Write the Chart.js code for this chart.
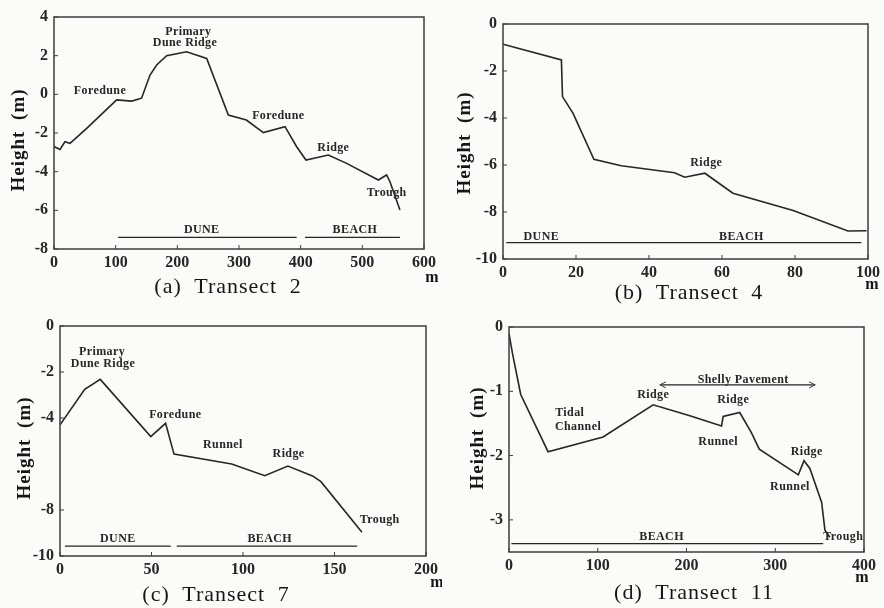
<!DOCTYPE html>
<html>
<head>
<meta charset="utf-8">
<script src="https://cdn.jsdelivr.net/npm/chart.js@4.4.1/dist/chart.umd.min.js"></script>
<style>
  html, body { margin: 0; padding: 0; background: #fbfbfa; }
  #fig { position: relative; width: 884px; height: 608px; overflow: hidden; }
  canvas { position: absolute; }
</style>
</head>
<body>
<div id="fig">
  <canvas id="t2" width="442" height="306" style="left:0;top:0"></canvas>
  <canvas id="t4" width="442" height="306" style="left:442px;top:0"></canvas>
  <canvas id="t7" width="442" height="308" style="left:0;top:300px"></canvas>
  <canvas id="t11" width="442" height="308" style="left:442px;top:300px"></canvas>
</div>
<script>
// (a) Transect 2
const t2Dist = [0, 9.7, 17.8, 26, 53, 101.6, 126, 142, 155.7, 166.5, 182.7, 215, 247.6, 282.7, 312, 339.5, 374.6, 393.5, 408.6, 444.8, 474.6, 525.9, 539.4, 544.8, 561];
const t2Height = [-2.7, -2.85, -2.45, -2.53, -1.76, -0.29, -0.35, -0.2, 1.0, 1.52, 2.0, 2.2, 1.86, -1.07, -1.33, -1.98, -1.67, -2.71, -3.4, -3.14, -3.57, -4.43, -4.17, -4.52, -5.98];
const t2XTicks = [0, 100, 200, 300, 400, 500, 600];
const t2YTicks = [4, 2, 0, -2, -4, -6, -8];
const t2Zones = [["DUNE", 104, 393.5, 239.5], ["BEACH", 407, 561, 488]];
const t2ZoneLevel = -7.4;
const t2Notes = [["Foredune", 74.6, 0.19], ["Primary", 217.8, 3.24], ["Dune Ridge", 212.4, 2.64],
  ["Foredune", 363.7, -1.12], ["Ridge", 453, -2.79], ["Trough", 539.4, -5.09]];

// (b) Transect 4
const t4Dist = [0, 16, 16.3, 19.2, 24.9, 32.4, 47, 49.8, 55.3, 63, 79.5, 94.5, 99.6];
const t4Height = [-0.86, -1.53, -3.09, -3.8, -5.76, -6.03, -6.33, -6.52, -6.35, -7.2, -7.94, -8.81, -8.8];
const t4XTicks = [0, 20, 40, 60, 80, 100];
const t4YTicks = [0, -2, -4, -6, -8, -10];
const t4Zones = [["", 0.9, 98.2, 0]];
const t4ZoneLevel = -9.3;
const t4Notes = [["DUNE", 10.5, -9.05], ["BEACH", 65.3, -9.05], ["Ridge", 55.7, -5.9]];

// (c) Transect 7
const t7Dist = [0, 13.5, 22, 49.6, 57.7, 62.3, 93.8, 111.9, 124.5, 138, 142.6, 165];
const t7Height = [-4.3, -2.75, -2.32, -4.81, -4.23, -5.57, -6.0, -6.51, -6.09, -6.52, -6.77, -8.97];
const t7XTicks = [0, 50, 100, 150, 200];
const t7YTicks = [0, -2, -4, -8, -10];
const t7Zones = [["DUNE", 2.7, 60.5, 31.6], ["BEACH", 63.8, 162.4, 114.6]];
const t7ZoneLevel = -9.57;
const t7Notes = [["Primary", 23, -1.12], ["Dune Ridge", 23.5, -1.65], ["Foredune", 63, -3.87],
  ["Runnel", 89, -5.17], ["Ridge", 124.9, -5.57], ["Trough", 174.7, -8.43]];

// (d) Transect 11
const t11Dist = [0, 3.9, 13.2, 44, 106, 162.4, 203.8, 239.5, 241.3, 260, 273.4, 282, 326, 332.4, 339, 352.3, 356, 361.5];
const t11Height = [-0.1, -0.41, -1.05, -1.94, -1.71, -1.21, -1.38, -1.54, -1.39, -1.33, -1.65, -1.9, -2.3, -2.08, -2.2, -2.73, -3.16, -3.27];
const t11XTicks = [0, 100, 200, 300, 400];
const t11YTicks = [0, -1, -2, -3];
const t11Zones = [["BEACH", 2.7, 354, 171.9]];
const t11ZoneLevel = -3.37;
const t11Shelly = [170, 345];
const t11ShellyLevel = -0.9;
const t11Notes = [["Shelly Pavement", 263.9, -0.82], ["Tidal", 68.4, -1.34], ["Channel", 77.8, -1.55],
  ["Ridge", 162.4, -1.06], ["Ridge", 252.6, -1.14], ["Runnel", 235.7, -1.78],
  ["Ridge", 335.4, -1.94], ["Runnel", 316.6, -2.49], ["Trough", 376.7, -3.26]];

const INK = "#262626";
const SERIF = "'Liberation Serif', 'DejaVu Serif', serif";

// frame, inward ticks, notes and captions
const figurePlugin = {
  id: "figure",
  afterDatasetsDraw(chart, args, opts) {
    const { ctx, chartArea: a } = chart;
    const x = chart.scales.x, y = chart.scales.y;
    ctx.save();
    ctx.strokeStyle = "#3c3c3c";
    ctx.lineWidth = 1.5;
    ctx.strokeRect(a.left, a.top, a.right - a.left, a.bottom - a.top);

    ctx.lineWidth = 1;
    ctx.beginPath();
    y.ticks.forEach((t) => {
      const py = y.getPixelForValue(t.value);
      ctx.moveTo(a.left, py);
      ctx.lineTo(a.left + 4, py);
    });
    x.ticks.forEach((t) => {
      const px = x.getPixelForValue(t.value);
      ctx.moveTo(px, a.bottom);
      ctx.lineTo(px, a.bottom - 4);
    });
    ctx.stroke();

    ctx.fillStyle = INK;
    ctx.textAlign = "center";
    ctx.textBaseline = "middle";
    ctx.font = "bold 12px " + SERIF;
    ctx.letterSpacing = "0.4px";
    (opts.notes || []).forEach(([txt, vx, vy]) => {
      ctx.fillText(txt, x.getPixelForValue(vx), y.getPixelForValue(vy));
    });
    (opts.zones || []).forEach(([txt, x0, x1, cx]) => {
      if (txt) ctx.fillText(txt, x.getPixelForValue(cx), y.getPixelForValue(opts.zoneLevel) - 7);
    });

    // arrowheads for a ranged note
    if (opts.arrow) {
      const [x0, x1, lvl] = opts.arrow;
      const py = y.getPixelForValue(lvl);
      const p0 = x.getPixelForValue(x0), p1 = x.getPixelForValue(x1);
      ctx.beginPath();
      ctx.moveTo(p0 + 6, py - 3); ctx.lineTo(p0, py); ctx.lineTo(p0 + 6, py + 3);
      ctx.moveTo(p1 - 6, py - 3); ctx.lineTo(p1, py); ctx.lineTo(p1 - 6, py + 3);
      ctx.stroke();
    }

    ctx.fillStyle = "#161616";
    ctx.letterSpacing = "1px";
    ctx.wordSpacing = "6px";
    ctx.font = "22px " + SERIF;
    ctx.fillText(opts.caption, opts.capX, opts.capY);
    ctx.font = "bold 16px " + SERIF;
    ctx.letterSpacing = "0px";
    ctx.wordSpacing = "0px";
    ctx.fillText("m", opts.mX, opts.mY);

    ctx.translate(opts.titleX, opts.titleY);
    ctx.rotate(-Math.PI / 2);
    ctx.font = "bold 19px " + SERIF;
    ctx.letterSpacing = "1px";
    ctx.wordSpacing = "5px";
    ctx.fillText("Height (m)", 0, 0);
    ctx.restore();
  },
};

function makeTransect(id, cfg) {
  const canvas = document.getElementById(id);
  const W = canvas.width, H = canvas.height;
  const [L, T, R, B] = cfg.area;

  const datasets = [
    {
      data: cfg.dist.map((d, i) => ({ x: d, y: cfg.height[i] })),
      borderColor: INK,
      backgroundColor: INK,
      borderWidth: 1.6,
      pointRadius: 0,
      showLine: true,
    },
  ];
  cfg.zones.forEach(([, x0, x1]) => {
    datasets.push({
      data: [{ x: x0, y: cfg.zoneLevel }, { x: x1, y: cfg.zoneLevel }],
      borderColor: INK,
      borderWidth: 1.3,
      pointRadius: 0,
      showLine: true,
    });
  });
  if (cfg.arrow) {
    datasets.push({
      data: [{ x: cfg.arrow[0], y: cfg.arrow[2] }, { x: cfg.arrow[1], y: cfg.arrow[2] }],
      borderColor: INK,
      borderWidth: 1.2,
      pointRadius: 0,
      showLine: true,
    });
  }

  const tickFont = { family: SERIF, size: 16, weight: "bold" };
  return new Chart(canvas, {
    type: "scatter",
    data: { datasets },
    plugins: [figurePlugin],
    options: {
      responsive: false,
      animation: false,
      events: [],
      layout: { autoPadding: false, padding: { left: 0, top: T, right: W - R, bottom: 0 } },
      plugins: {
        legend: { display: false },
        tooltip: { enabled: false },
        figure: {
          notes: cfg.notes,
          zones: cfg.zones,
          zoneLevel: cfg.zoneLevel,
          arrow: cfg.arrow,
          caption: cfg.caption,
          capX: cfg.capPos[0],
          capY: cfg.capPos[1],
          mX: cfg.mPos[0],
          mY: cfg.mPos[1],
          titleX: cfg.titlePos[0],
          titleY: cfg.titlePos[1],
        },
      },
      scales: {
        x: {
          type: "linear",
          min: cfg.xTicks[0],
          max: cfg.xTicks[cfg.xTicks.length - 1],
          afterBuildTicks: (s) => { s.ticks = cfg.xTicks.map((v) => ({ value: v })); },
          afterFit: (s) => { s.height = H - B; },
          grid: { display: false, drawTicks: false },
          border: { display: false },
          ticks: { color: INK, font: tickFont, padding: 4, maxRotation: 0, autoSkip: false },
        },
        y: {
          type: "linear",
          min: cfg.yRange[0],
          max: cfg.yRange[1],
          afterBuildTicks: (s) => { s.ticks = cfg.yTicks.map((v) => ({ value: v })); },
          afterFit: (s) => { s.width = L; },
          grid: { display: false, drawTicks: false },
          border: { display: false },
          ticks: { color: INK, font: tickFont, padding: 6, autoSkip: false },
        },
      },
    },
  });
}

makeTransect("t2", {
  dist: t2Dist, height: t2Height, xTicks: t2XTicks, yTicks: t2YTicks, yRange: [-8, 4],
  zones: t2Zones, zoneLevel: t2ZoneLevel, notes: t2Notes,
  area: [54, 17, 424, 249], caption: "(a) Transect 2", capPos: [228, 287], mPos: [432, 278], titlePos: [19, 140],
});
makeTransect("t4", {
  dist: t4Dist, height: t4Height, xTicks: t4XTicks, yTicks: t4YTicks, yRange: [-10, 0],
  zones: t4Zones, zoneLevel: t4ZoneLevel, notes: t4Notes,
  area: [61, 24, 426, 259], caption: "(b) Transect 4", capPos: [247, 293], mPos: [430, 285], titlePos: [23, 143],
});
makeTransect("t7", {
  dist: t7Dist, height: t7Height, xTicks: t7XTicks, yTicks: t7YTicks, yRange: [-10, 0],
  zones: t7Zones, zoneLevel: t7ZoneLevel, notes: t7Notes,
  area: [60, 26, 430, 256], caption: "(c) Transect 7", capPos: [216, 295], mPos: [437, 283], titlePos: [25, 148],
});
makeTransect("t11", {
  dist: t11Dist, height: t11Height, xTicks: t11XTicks, yTicks: t11YTicks, yRange: [-3.5, 0],
  zones: t11Zones, zoneLevel: t11ZoneLevel, notes: t11Notes,
  arrow: [t11Shelly[0], t11Shelly[1], t11ShellyLevel],
  area: [67, 27, 422, 252], caption: "(d) Transect 11", capPos: [252, 293], mPos: [420, 278], titlePos: [36, 138],
});
</script>
</body>
</html>
